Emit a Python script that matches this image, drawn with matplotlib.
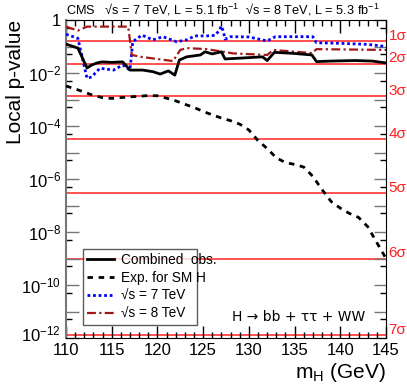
# p-value locale H -> bb + tautau + WW (CMS 2012)

import numpy as np
import matplotlib.pyplot as plt
from matplotlib.ticker import FixedLocator, FuncFormatter, MultipleLocator
import matplotlib.transforms as mtransforms

plt.rcParams['font.family'] = ['Liberation Sans', 'DejaVu Sans']
plt.rcParams['mathtext.fontset'] = 'custom'
plt.rcParams['mathtext.rm'] = 'Liberation Sans'
plt.rcParams['mathtext.it'] = 'Liberation Sans:italic'
plt.rcParams['mathtext.default'] = 'regular'

# osservato combinato (log10 p)
m_obs = [110, 111.3, 112.3, 112.8, 113.4, 113.9, 115, 116.2, 117, 118.4, 119.5, 120.3,
         121.2, 121.9, 122.4, 123.2, 124.7, 125.2, 126, 127, 127.4, 129, 131.5, 132,
         132.8, 134.9, 136.9, 137.4, 139, 141.6, 143.5, 145]
lp_obs = [-0.91, -1.06, -1.81, -1.70, -1.62, -1.58, -1.6, -1.58, -1.89, -1.89, -1.95, -2.04,
          -1.92, -2.08, -1.51, -1.39, -1.32, -1.2, -1.28, -1.2, -1.47, -1.44, -1.39, -1.53,
          -1.22, -1.26, -1.32, -1.57, -1.55, -1.53, -1.55, -1.62]

# atteso per H del MS
m_exp = list(range(110, 146))
lp_exp = [-2.49, -2.6, -2.72, -2.85, -2.93, -2.96, -2.93, -2.9, -2.88, -2.85, -2.86, -2.95,
          -3.05, -3.18, -3.3, -3.45, -3.58, -3.7, -3.8, -3.93, -4.15, -4.55, -4.85, -5.2,
          -5.38, -5.45, -5.55, -5.9, -6.4, -6.85, -7.1, -7.3, -7.45, -7.8, -8.4, -9.0]

# sqrt(s) = 7 TeV
m_7 = [110, 111.3, 112.3, 112.8, 113.7, 115.2, 116.2, 117, 117.3, 118.3, 119.5, 120.6,
       122.1, 123.2, 124.1, 125.4, 126.3, 126.7, 127, 127.2, 127.4, 128, 130, 132,
       132.9, 137, 137.4, 140, 143, 145]
lp_7 = [-0.54, -0.69, -2.2, -2.15, -1.82, -1.89, -1.7, -1.89, -0.82, -0.57, -0.75, -0.63,
        -0.82, -0.75, -0.6, -0.6, -0.58, -0.42, -0.23, -0.42, -0.72, -0.63, -0.64, -0.79,
        -0.63, -0.63, -0.86, -0.88, -0.92, -1.0]

# sqrt(s) = 8 TeV
m_8 = [110, 111.3, 112.3, 116.8, 117.2, 118.2, 121.7, 122.5, 123.2, 125.4, 128.3, 132,
       132.7, 136.9, 137.4, 145]
lp_8 = [-0.25, -0.4, -0.25, -0.25, -1.32, -1.39, -1.55, -1.13, -1.06, -1.1, -1.26, -1.32,
        -1.13, -1.25, -1.1, -1.13]

sigma = [1, 2, 3, 4, 5, 6, 7]
p_sigma = [1.587e-1, 2.275e-2, 1.35e-3, 3.167e-5, 2.867e-7, 9.866e-10, 1.28e-12]

fig = plt.figure(figsize=(4.07, 3.91), dpi=100)
ax = fig.add_axes([66/407, 1-338/391, 320/407, 318/391])

for p in p_sigma:
    ax.axhline(p, color='#ff3333', lw=1.2, zorder=1)

ax.plot(m_obs, 10**np.array(lp_obs), color='black', lw=2, label='Combined  obs.', zorder=4)
ax.plot(m_exp, 10**np.array(lp_exp), color='black', lw=2, ls=(0, (2, 2)),
        label='Exp. for SM H', zorder=3)
ax.plot(m_7, 10**np.array(lp_7), color='#0000ff', lw=2, ls=(0, (1, 1)),
        label='\u221as = 7 TeV', zorder=3)
ax.plot(m_8, 10**np.array(lp_8), color='#a01818', lw=1.6, ls=(0, (4, 1.5, 1, 1.5)),
        label='\u221as = 8 TeV', zorder=3)

ax.set_yscale('log')
ax.set_xlim(110, 145)
ax.set_ylim(1e-12, 1)

esponenti = np.arange(-12, 1)
ax.yaxis.set_major_locator(FixedLocator(10.0**esponenti))
ax.yaxis.set_minor_locator(FixedLocator(5 * 10.0**esponenti[:-1]))

def etichetta_y(v, pos):
    e = int(round(np.log10(v)))
    if e % 2:
        return ''
    if e == 0:
        return '1'
    return '$10^{%d}$' % e

ax.yaxis.set_major_formatter(FuncFormatter(etichetta_y))
ax.xaxis.set_major_locator(MultipleLocator(5))
ax.xaxis.set_minor_locator(MultipleLocator(1))

ax.tick_params(which='both', direction='in', top=True, right=True, labelsize=12)
ax.tick_params(which='major', length=9, width=1)
ax.tick_params(which='minor', length=4.5, width=1)
ax.tick_params(axis='y', colors='#777777', labelcolor='black')
ax.spines['left'].set_color('#777777')
ax.spines['left'].set_linewidth(1.5)

# etichetta 10^-12 un po' più in alto, come nell'originale
primo = ax.yaxis.get_major_ticks()[0].label1
primo.set_transform(primo.get_transform() +
                    mtransforms.ScaledTranslation(0, 5/100, fig.dpi_scale_trans))

ax.set_ylabel('Local p-value', fontsize=15)
ax.yaxis.set_label_coords(-0.128, 1.0)
ax.yaxis.label.set_horizontalalignment('right')
ax.set_xlabel('m$_H$ (GeV)', fontsize=15, loc='right', labelpad=2)

trans = mtransforms.blended_transform_factory(ax.transAxes, ax.transData)
for n, p in zip(sigma, p_sigma):
    ax.text(1.008, p * 1.6, f'{n}\u03c3', transform=trans, color='#ff2020',
            fontsize=11, va='center', ha='left', clip_on=False)

fig.text(66/407, 1-10/391,
         'CMS   \u221as = 7 TeV, L = 5.1 fb$^{-1}$  \u221as = 8 TeV, L = 5.3 fb$^{-1}$',
         fontsize=9.2, va='center', ha='left')

ax.text(0.52, 0.065, 'H \u2192 bb + \u03c4\u03c4 + WW', transform=ax.transAxes,
        fontsize=10, va='center', ha='left', family=['DejaVu Sans'])

leg = ax.legend(loc='lower left', bbox_to_anchor=(0.031, 0.019, 0.4, 0.22), mode='expand',
                fontsize=9.8, frameon=True, fancybox=False, edgecolor='#333333',
                handlelength=2.0, handletextpad=0.5, borderpad=0.3, labelspacing=0.3)
leg.get_frame().set_linewidth(1)

fig.savefig('out.png', dpi=100)
